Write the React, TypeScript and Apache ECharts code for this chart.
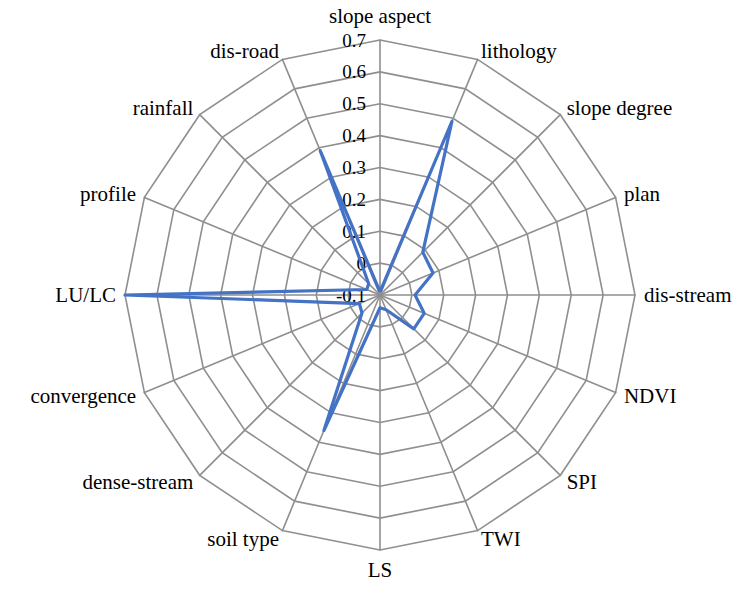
import React, { useEffect, useRef } from "react";
import * as echarts from "echarts";

// Categories in clockwise order, starting at the top
const categories = [
  "slope aspect", "lithology", "slope degree", "plan", "dis-stream", "NDVI", "SPI", "TWI",
  "LS", "soil type", "dense-stream", "convergence", "LU/LC", "profile", "rainfall", "dis-road",
];
const values = [
  -0.09, 0.49, 0.09, 0.08, 0.01, 0.05, 0.05, -0.05,
  -0.06, 0.36, -0.02, -0.03, 0.7, -0.055, -0.05, 0.39,
];
const axisMin = -0.1;
const axisMax = 0.7;
const splitCount = 8;

export default function App() {
  const ref = useRef<HTMLDivElement>(null);
  useEffect(() => {
    if (!ref.current) return;
    const chart = echarts.init(ref.current, undefined, { renderer: "svg" });
    // ECharts radar runs counter-clockwise; reorder so the result reads clockwise
    const order = categories.map((_, i) => (i === 0 ? 0 : categories.length - i));
    const indicator = order.map((i) => ({
      name: categories[i],
      min: axisMin,
      max: axisMax,
      axisLabel: i === 0 ? { show: true } : { show: false },
    }));
    const data = order.map((i) => values[i]);
    chart.setOption({
      animation: false,
      backgroundColor: "#ffffff",
      radar: {
        center: [380, 295],
        radius: 255,
        startAngle: 90,
        shape: "polygon",
        splitNumber: splitCount,
        nameGap: 9,
        indicator,
        axisName: {
          color: "#000",
          fontFamily: "Liberation Serif",
          fontSize: 21,
          formatter: (name: string) => (name === "slope aspect" ? "{top|" + name + "}" : name),
          rich: {
            top: {
              color: "#000",
              fontFamily: "Liberation Serif",
              fontSize: 21,
              padding: [0, 0, 5, 0],
            },
          },
        },
        axisLine: { lineStyle: { color: "#8f8f8f", width: 1.6 } },
        splitLine: { lineStyle: { color: "#8f8f8f", width: 1.6 } },
        splitArea: { show: false },
        axisTick: { show: false },
        axisLabel: {
          show: false,
          color: "#000",
          fontFamily: "Liberation Serif",
          fontSize: 19,
          margin: 14,
          formatter: (v: number) => String(Math.round(v * 10) / 10),
        },
      },
      series: [
        {
          type: "radar",
          symbol: "none",
          lineStyle: { color: "#4472C4", width: 3.2 },
          data: [{ value: data }],
        },
      ],
    });
    return () => chart.dispose();
  }, []);
  return (
    <div
      ref={ref}
      style={{ position: "fixed", left: 0, top: 0, width: 748, height: 597 }}
    />
  );
}
